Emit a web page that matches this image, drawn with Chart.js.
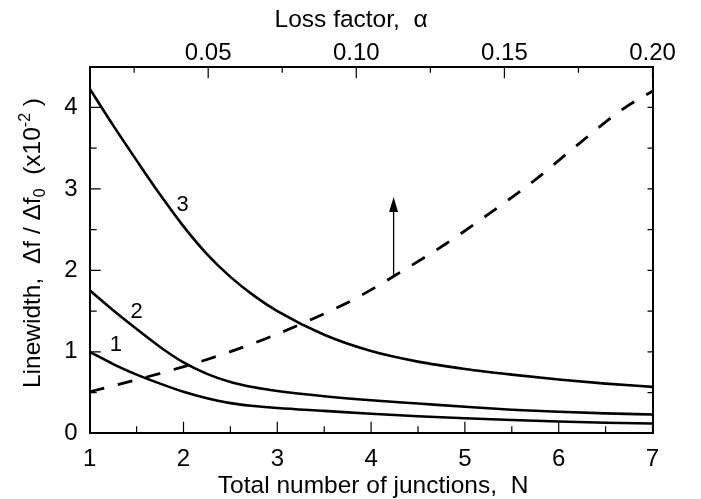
<!DOCTYPE html>
<html>
<head>
<meta charset="utf-8">
<script src="https://cdn.jsdelivr.net/npm/chart.js@4.4.1/dist/chart.umd.min.js"></script>
<style>
  html, body { margin: 0; padding: 0; background: #fff; }
  #wrap { width: 701px; height: 499px; }
</style>
</head>
<body>
<div id="wrap"><canvas id="grafico" width="701" height="499"></canvas></div>
<script>
// curvas solidas (eje inferior N)
const juncN  = [1, 1.25, 1.5, 1.75, 2, 2.25, 2.5, 2.75, 3, 3.5, 4, 4.5, 5, 5.5, 6, 6.5, 7];
const curva1 = [1.00, 0.85, 0.72, 0.61, 0.51, 0.43, 0.37, 0.335, 0.31, 0.275, 0.24, 0.21, 0.185, 0.163, 0.145, 0.13, 0.12];
const curva2 = [1.755, 1.51, 1.28, 1.06, 0.87, 0.73, 0.63, 0.565, 0.52, 0.455, 0.405, 0.365, 0.325, 0.29, 0.265, 0.245, 0.23];
const curva3 = [4.23, 3.78, 3.35, 2.93, 2.54, 2.20, 1.92, 1.69, 1.50, 1.21, 1.01, 0.88, 0.79, 0.72, 0.66, 0.61, 0.57];

// curva discontinua (eje superior alfa)
const alfa      = [0.01, 0.025, 0.04, 0.055, 0.07, 0.085, 0.10, 0.115, 0.13, 0.145, 0.16, 0.175, 0.19, 0.20];
const curvaAlfa = [0.51, 0.65, 0.80, 0.97, 1.17, 1.40, 1.66, 1.98, 2.32, 2.70, 3.10, 3.55, 3.98, 4.20];

// ticks
const ticksN    = [1, 1.5, 2, 2.5, 3, 3.5, 4, 4.5, 5, 5.5, 6, 6.5, 7];
const ticksAlfa = [0.025, 0.05, 0.075, 0.10, 0.125, 0.15, 0.175, 0.20];
const ticksY    = [0, 0.5, 1, 1.5, 2, 2.5, 3, 3.5, 4, 4.5];

// etiquetas de las curvas y flecha
const etiquetas = ["1", "2", "3"];
const etiqN     = [1.28, 1.50, 1.99];
const etiqV     = [1.085, 1.49, 2.80];
const flechaN = 4.24, flechaDesde = 1.94, flechaHasta = 2.90;

const FUENTE = "'Liberation Sans', Arial, Helvetica, sans-serif";
Chart.defaults.font.family = FUENTE;
Chart.defaults.font.size = 24;
Chart.defaults.color = "#000";

const pts = (xs, ys) => xs.map((x, i) => ({ x: x, y: ys[i] }));
const esMultiplo = (v, paso) => Math.abs(v / paso - Math.round(v / paso)) < 1e-6;

const marcasEjes = {
    id: "marcasEjes",
    afterDraw(chart) {
        const ctx = chart.ctx;
        const a = chart.chartArea;
        const s = chart.scales;
        ctx.save();
        ctx.strokeStyle = "#000";
        ctx.lineWidth = 1.2;
        ctx.beginPath();
        s.x.ticks.forEach(t => {
            const px = s.x.getPixelForValue(t.value);
            const len = Number.isInteger(t.value) ? 11.5 : 7;
            ctx.moveTo(px, a.bottom); ctx.lineTo(px, a.bottom - len);
        });
        s.x2.ticks.forEach(t => {
            const px = s.x2.getPixelForValue(t.value);
            const len = esMultiplo(t.value, 0.05) ? 11.5 : 6;
            ctx.moveTo(px, a.top); ctx.lineTo(px, a.top + len);
        });
        s.y.ticks.forEach(t => {
            const py = s.y.getPixelForValue(t.value);
            const len = Number.isInteger(t.value) ? 11 : 7;
            ctx.moveTo(a.left, py); ctx.lineTo(a.left + len, py);
        });
        s.y2.ticks.forEach(t => {
            const py = s.y2.getPixelForValue(t.value);
            ctx.moveTo(a.right, py); ctx.lineTo(a.right - 5, py);
        });
        ctx.stroke();

        // flecha
        const fx = s.x.getPixelForValue(flechaN);
        const fy0 = s.y.getPixelForValue(flechaDesde);
        const fy1 = s.y.getPixelForValue(flechaHasta);
        ctx.lineWidth = 1.3;
        ctx.beginPath();
        ctx.moveTo(fx, fy0); ctx.lineTo(fx, fy1 + 12);
        ctx.stroke();
        ctx.fillStyle = "#000";
        ctx.beginPath();
        ctx.moveTo(fx, fy1);
        ctx.lineTo(fx - 4.5, fy1 + 15);
        ctx.lineTo(fx + 4.5, fy1 + 15);
        ctx.closePath();
        ctx.fill();

        // numeros de las curvas
        ctx.font = "22px " + FUENTE;
        ctx.textAlign = "center";
        ctx.textBaseline = "middle";
        etiquetas.forEach((e, i) => {
            ctx.fillText(e, s.x.getPixelForValue(etiqN[i]), s.y.getPixelForValue(etiqV[i]));
        });

        // titulos
        const cx = (a.left + a.right) / 2;
        ctx.font = "24.5px " + FUENTE;
        ctx.textBaseline = "alphabetic";
        ctx.fillText("Loss factor,  \u03b1", cx - 20, a.top - 40);
        ctx.fillText("Total number of junctions,  N", cx + 2, a.bottom + 59.4);

        // titulo eje y con subindice y superindice
        const trozos = [
            { t: "Linewidth,  \u0394f / \u0394f", sz: 24.5, dy: 0 },
            { t: "0", sz: 16, dy: 5 },
            { t: "  (x10", sz: 24.5, dy: 0 },
            { t: "-2", sz: 16, dy: -10 },
            { t: " )", sz: 24.5, dy: 0 }
        ];
        let total = 0;
        trozos.forEach(p => { ctx.font = p.sz + "px " + FUENTE; p.w = ctx.measureText(p.t).width; total += p.w; });
        ctx.translate(40, (a.top + a.bottom) / 2 - 7);
        ctx.rotate(-Math.PI / 2);
        ctx.textAlign = "left";
        let xx = -total / 2;
        trozos.forEach(p => {
            ctx.font = p.sz + "px " + FUENTE;
            ctx.fillText(p.t, xx, p.dy);
            xx += p.w;
        });
        ctx.restore();
    }
};

const ejeBase = {
    type: "linear",
    grid: { display: false, drawTicks: false },
    border: { display: true, color: "#000", width: 2 }
};

new Chart(document.getElementById("grafico"), {
    type: "line",
    data: {
        datasets: [
            { data: pts(juncN, curva1), xAxisID: "x", yAxisID: "y", borderColor: "#000", borderWidth: 2.6 },
            { data: pts(juncN, curva2), xAxisID: "x", yAxisID: "y", borderColor: "#000", borderWidth: 2.6 },
            { data: pts(juncN, curva3), xAxisID: "x", yAxisID: "y", borderColor: "#000", borderWidth: 2.6 },
            { data: pts(alfa, curvaAlfa), xAxisID: "x2", yAxisID: "y", borderColor: "#000", borderWidth: 2.8, borderDash: [15, 14] }
        ]
    },
    options: {
        responsive: false,
        animation: false,
        devicePixelRatio: 1,
        layout: { padding: 0 },
        elements: {
            point: { radius: 0 },
            line: { cubicInterpolationMode: "monotone", fill: false }
        },
        plugins: { legend: { display: false }, tooltip: { enabled: false } },
        scales: {
            x: Object.assign({}, ejeBase, {
                position: "bottom", min: 1, max: 7,
                afterBuildTicks: sc => { sc.ticks = ticksN.map(v => ({ value: v })); },
                ticks: { padding: 12, maxRotation: 0, autoSkip: false, callback: v => Number.isInteger(v) ? String(v) : "" },
                afterFit: sc => { sc.height = 65.7; }
            }),
            x2: Object.assign({}, ejeBase, {
                position: "top", min: 0.01, max: 0.20,
                afterBuildTicks: sc => { sc.ticks = ticksAlfa.map(v => ({ value: v })); },
                ticks: { padding: -1, maxRotation: 0, autoSkip: false, callback: v => esMultiplo(v, 0.05) ? v.toFixed(2) : "" },
                afterFit: sc => { sc.height = 66.7; }
            }),
            y: Object.assign({}, ejeBase, {
                position: "left", min: 0, max: 4.5,
                afterBuildTicks: sc => { sc.ticks = ticksY.map(v => ({ value: v })); },
                ticks: { padding: 12, autoSkip: false, callback: v => (Number.isInteger(v) && v <= 4) ? String(v) : "" },
                afterFit: sc => { sc.width = 89.7; }
            }),
            y2: Object.assign({}, ejeBase, {
                position: "right", min: 0, max: 4.5,
                afterBuildTicks: sc => { sc.ticks = ticksY.map(v => ({ value: v })); },
                ticks: { autoSkip: false, callback: () => "" },
                afterFit: sc => { sc.width = 48.5; }
            })
        }
    },
    plugins: [marcasEjes]
});
</script>
</body>
</html>
